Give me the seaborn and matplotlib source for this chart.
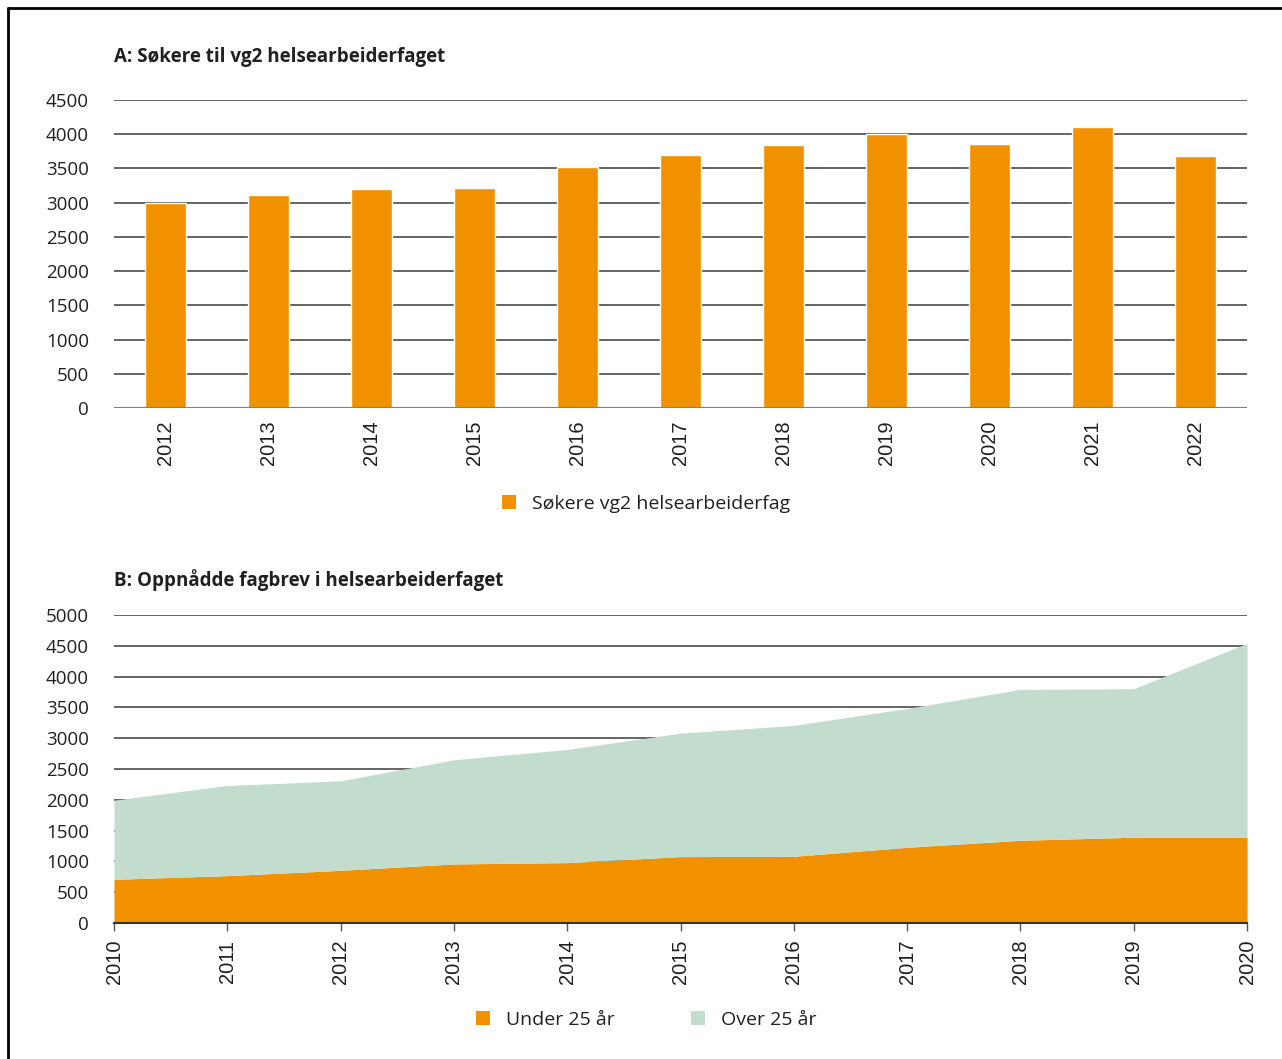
import matplotlib
matplotlib.use('Agg')
import matplotlib.pyplot as plt
from matplotlib.patches import Patch
from matplotlib.lines import Line2D
import pandas as pd
import seaborn as sns

# Panel A: applicants to vg2
years_a = ["2012", "2013", "2014", "2015", "2016", "2017",
           "2018", "2019", "2020", "2021", "2022"]
applicants = [2995, 3112, 3195, 3210, 3526, 3692, 3838, 4003, 3853, 4101, 3677]

# Panel B: trade certificates obtained
years_b = [2010, 2011, 2012, 2013, 2014, 2015, 2016, 2017, 2018, 2019, 2020]
under_25 = [709, 769, 855, 959, 980, 1078, 1083, 1229, 1343, 1392, 1392]
over_25 = [1285, 1463, 1453, 1691, 1837, 2004, 2124, 2254, 2449, 2411, 3148]

ORANGE = "#F29100"
GREEN = "#C2DCCD"
GRID = "#3a3a3a"
TXT = "#231F20"

sns.set_style("white")
plt.rcParams['font.family'] = ['Open Sans', 'DejaVu Sans']
plt.rcParams['text.color'] = TXT

fig = plt.figure(figsize=(12.82, 10.59), dpi=100)

# ---- Panel A ----
ax1 = fig.add_axes([114 / 1282, 1 - 408 / 1059, 1133 / 1282, 308 / 1059])
df_a = pd.DataFrame({"year": years_a, "value": applicants})
sns.barplot(data=df_a, x="year", y="value", color=ORANGE, width=0.4,
            saturation=1, ax=ax1, zorder=3)
ax1.set_xlim(-0.5, len(years_a) - 0.5)
ax1.set_ylim(0, 4500)
ax1.set_yticks(range(0, 4501, 500))
for y in range(500, 4501, 500):
    ax1.axhline(y, color=GRID, lw=1.1, zorder=1)
ax1.axhline(0, color="#808080", lw=1.5, zorder=4)
ax1.set_xlabel("")
ax1.set_ylabel("")
for s in ax1.spines.values():
    s.set_visible(False)
ax1.tick_params(axis="y", length=0, labelsize=13.5, pad=18, labelcolor=TXT)
ax1.tick_params(axis="x", length=0, pad=9)
ax1.set_yticklabels([str(v) for v in range(0, 4501, 500)], ha="right")
ax1.set_xticks(range(len(years_a)))
ax1.set_xticklabels(years_a, rotation=90, fontsize=14.5,
                    family=['Liberation Sans', 'DejaVu Sans'], color=TXT)
fig.text(114 / 1282, 1 - 57 / 1059, "A: Søkere til vg2 helsearbeiderfaget",
         fontsize=13.5, fontweight="bold", va="center", ha="left")

fig.legend(handles=[Patch(facecolor=ORANGE, edgecolor="none",
                          label="Søkere vg2 helsearbeiderfag")],
           loc="center", bbox_to_anchor=(646 / 1282, 1 - 504 / 1059),
           frameon=False, fontsize=14, handlelength=0.75, handleheight=0.75,
           handletextpad=0.8)

# ---- Panel B ----
ax2 = fig.add_axes([114 / 1282, 1 - 923 / 1059, 1133 / 1282, 308 / 1059])
for y in range(500, 5001, 500):
    ax2.axhline(y, color=GRID, lw=1.1, zorder=1)
ax2.stackplot(years_b, under_25, over_25, colors=[ORANGE, GREEN],
              labels=["Under 25 år", "Over 25 år"], zorder=2, lw=0)
ax2.set_xlim(2010, 2020)
ax2.set_ylim(0, 5000)
ax2.set_yticks(range(0, 5001, 500))
ax2.set_yticklabels([str(v) for v in range(0, 5001, 500)], ha="right")
ax2.set_xticks(years_b)
ax2.set_xticklabels([str(y) for y in years_b], rotation=90, fontsize=14.5,
                    family=['Liberation Sans', 'DejaVu Sans'], color=TXT)
for s in ["top", "right", "left"]:
    ax2.spines[s].set_visible(False)
ax2.spines["bottom"].set_color("#333333")
ax2.spines["bottom"].set_linewidth(1.5)
ax2.spines["bottom"].set_zorder(5)
ax2.tick_params(axis="y", length=0, labelsize=13.5, pad=18, labelcolor=TXT)
ax2.tick_params(axis="x", length=6, width=1, color="#555555", pad=6,
                direction="out", bottom=True)
fig.text(114 / 1282, 1 - 580 / 1059, "B: Oppnådde fagbrev i helsearbeiderfaget",
         fontsize=13.5, fontweight="bold", va="center", ha="left")

fig.legend(handles=[Patch(facecolor=ORANGE, edgecolor="none", label="Under 25 år"),
                    Patch(facecolor=GREEN, edgecolor="none", label="Over 25 år")],
           loc="center", bbox_to_anchor=(646 / 1282, 1 - 1020 / 1059), ncol=2,
           frameon=False, fontsize=14, handlelength=0.75, handleheight=0.75,
           handletextpad=0.8, columnspacing=3.9)

# frame (top and left edges)
fig.add_artist(Line2D([8 / 1282, 8 / 1282], [0, 1 - 8 / 1059],
                      transform=fig.transFigure, color="black", lw=2))
fig.add_artist(Line2D([8 / 1282, 1], [1 - 8 / 1059, 1 - 8 / 1059],
                      transform=fig.transFigure, color="black", lw=2))

fig.savefig("out.png", dpi=100, facecolor="white")
